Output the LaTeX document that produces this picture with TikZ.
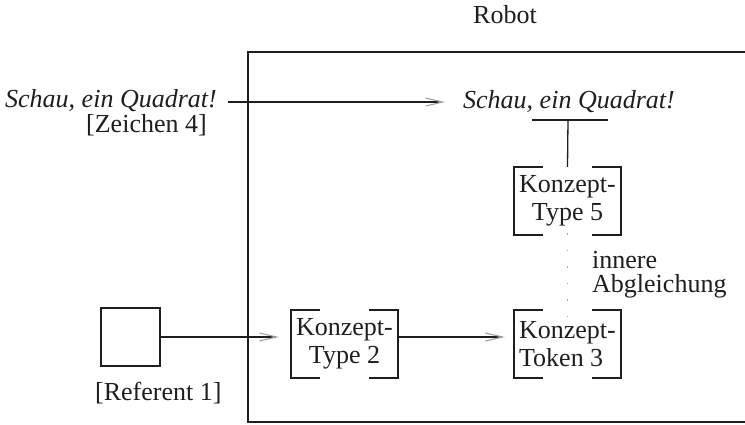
\documentclass[tikz,border=0pt]{standalone}
\usepackage{fontspec}
\setmainfont{Liberation Serif}
\usetikzlibrary{arrows.meta}
\definecolor{ink}{HTML}{1E1E1E}
\tikzset{
  txt/.style={inner sep=0pt, text=ink, font=\fontsize{26}{28}\selectfont},
  cbox/.style={txt, minimum width=107pt, minimum height=68pt},
  brk/.style={draw=ink, line width=1.5pt},
  frame/.style={draw=ink, line width=2pt},
  conn/.style={draw=ink, line width=1.3pt},
  arr/.style={conn, -{Straight Barb[length=17pt,width=8pt,line width=1.1pt,color=gray!75]}},
  dots/.style={draw=gray!65, line width=1.4pt, dash pattern=on 1.5pt off 15pt},
}
\newcommand\cbracket[1]{%
  \draw[brk] ([xshift=29pt]#1.north west) -- (#1.north west) -- (#1.south west) -- ([xshift=29pt]#1.south west);
  \draw[brk] ([xshift=-29pt]#1.north east) -- (#1.north east) -- (#1.south east) -- ([xshift=-29pt]#1.south east);}
\begin{document}
\begin{tikzpicture}[x=1pt, y=-1pt]
\useasboundingbox (0,0) rectangle (745,424);
% frame (runs off the right edge)
\coordinate (ftr) at (745,52);
\coordinate (fbr) at (745,422);
\draw[frame] (ftr) -| (248,422) -- (fbr);
\node[txt, anchor=base west] (robot) at (473,23) {Robot};
% signs
\node[txt, anchor=base west] (sign) at (5,107) {\itshape Schau, ein Quadrat!};
\node[txt, anchor=base west] (z4) at (86,132) {[Zeichen 4]};
\node[txt, anchor=base west] (inner) at (463,108) {\itshape Schau, ein Quadrat!};
% concept boxes
\node[cbox, align=center] (t5) at (567.5,201) {Konzept-\\Type 5};
\node[cbox, align=left] (k3) at (567.5,344) {Konzept-\\Token 3};
\node[cbox, align=center] (t2) at (344.5,344) {Konzept-\\Type 2};
\cbracket{t5}
\cbracket{k3}
\cbracket{t2}
% referent
\node[draw=ink, line width=1.5pt, minimum width=59pt, minimum height=58pt, inner sep=0pt] (sq) at (130.5,337) {};
\node[txt, anchor=base west] (ref) at (95,400) {[Referent 1]};
% T connector
\coordinate (tl) at (532,120);
\coordinate (tr) at (608,120);
\coordinate (tm) at (568,120);
\draw[conn] (tl) -- (tr);
\draw[conn] (tm) -- (t5.north);
% inner matching
\draw[dots] ([yshift=2pt]t5.south) -- ([yshift=-6pt]k3.north);
\node[txt, align=left, anchor=west, font=\fontsize{26}{24}\selectfont] (abg) at (592,275) {innere\\Abgleichung};
% arrows
\coordinate (sa) at ([xshift=11pt]sign.east);
\draw[arr] (sa |- 0,102) -- ([xshift=-18pt]inner.west |- 0,102);
\draw[arr] (sq.east) -- ([xshift=-12pt]t2.west |- sq.east);
\draw[arr] (t2.east |- sq.east) -- ([xshift=-9pt]k3.west |- sq.east);
\end{tikzpicture}
\end{document}
